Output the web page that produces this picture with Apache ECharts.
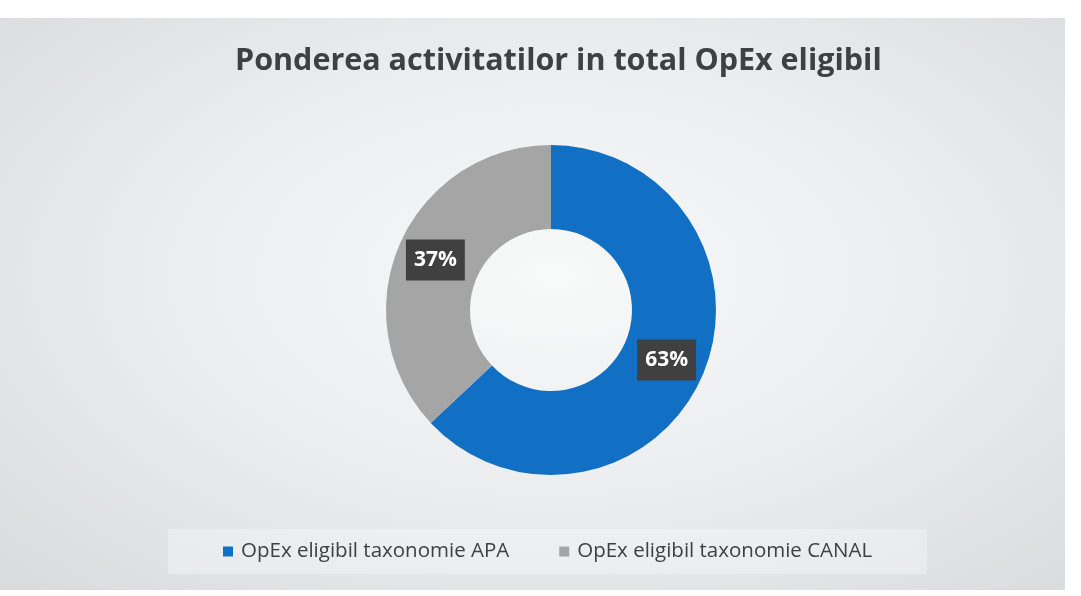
<!DOCTYPE html>
<html>
<head>
<meta charset="utf-8">
<script src="https://cdn.jsdelivr.net/npm/echarts@6/dist/echarts.min.js"></script>
<style>
  html, body { margin: 0; padding: 0; background: #ffffff; }
  .sheet {
    position: absolute; left: 0; top: 18px; right: 16px; bottom: 6px;
    background: radial-gradient(ellipse at 52% 45%, #f8f9f9 0%, #eceeef 45%, #d8dbdd 100%);
  }
  #chart { position: absolute; left: 0; top: 0; width: 1081px; height: 596px; }
</style>
</head>
<body>
<div class="sheet"></div>
<div id="chart"></div>
<script>
// date din grafic
const titlu = 'Ponderea activitatilor in total OpEx eligibil'
const categorii = ['OpEx eligibil taxonomie APA', 'OpEx eligibil taxonomie CANAL']
const valori = [63, 37]
const culori = ['#1170c4', '#a5a5a5']

const font = '"Open Sans", sans-serif'

const chart = echarts.init(document.getElementById('chart'))

const option = {
  backgroundColor: 'transparent',
  title: {
    text: titlu,
    left: 230,
    top: 41,
    textStyle: {
      fontFamily: font,
      fontSize: 30.5,
      fontWeight: 'bold',
      color: '#404040'
    }
  },
  legend: {
    data: categorii,
    left: 168,
    top: 529,
    padding: [12, 55],
    backgroundColor: 'rgba(255,255,255,0.3)',
    itemWidth: 10,
    itemHeight: 10,
    itemGap: 50,
    icon: 'rect',
    textStyle: {
      fontFamily: font,
      fontSize: 20.5,
      color: '#404040',
      padding: [0, 0, 0, 3]
    }
  },
  series: [
    {
      type: 'pie',
      center: [551, 310],
      radius: [81, 165],
      startAngle: 90,
      clockwise: true,
      silent: true,
      data: categorii.map((c, i) => ({
        name: c,
        value: valori[i],
        itemStyle: { color: culori[i] }
      })),
      label: {
        position: 'inside',
        formatter: '{d}%',
        fontFamily: font,
        fontSize: 21,
        fontWeight: 'bold',
        color: '#ffffff',
        backgroundColor: '#404040',
        padding: [11, 8, 9, 8]
      },
      labelLine: { show: false }
    }
  ]
}

chart.setOption(option)
</script>
</body>
</html>
